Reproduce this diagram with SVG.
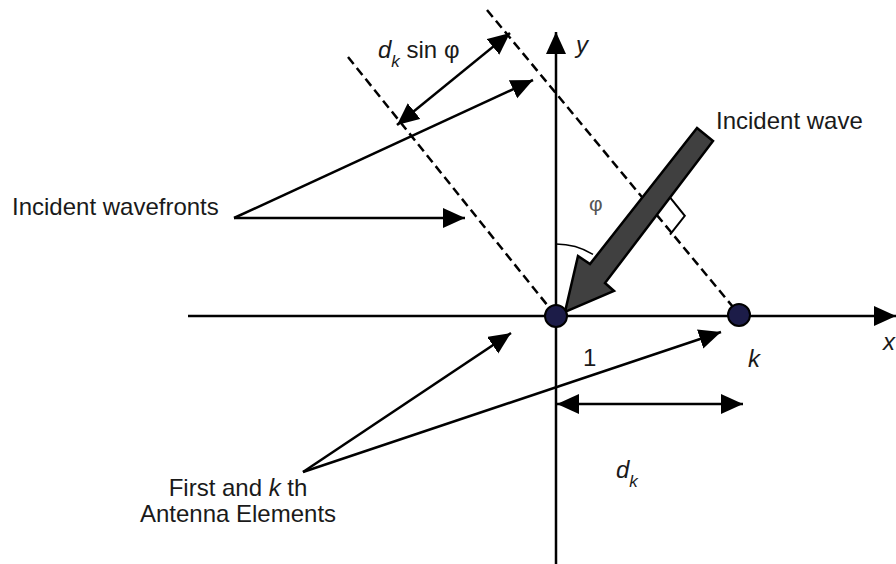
<svg xmlns="http://www.w3.org/2000/svg" width="896" height="564" viewBox="0 0 896 564">
<defs>
<marker id="ah" markerUnits="userSpaceOnUse" markerWidth="24" markerHeight="22" refX="22" refY="10" orient="auto-start-reverse" viewBox="0 0 24 22">
<path d="M0,0 L22,10 L0,20 z" fill="#000"/>
</marker>
<style>
.ln{stroke:#000;stroke-width:2.5;fill:none}
.arr{stroke:#000;stroke-width:2.5;fill:none;marker-end:url(#ah)}
.dbl{stroke:#000;stroke-width:2.5;fill:none;marker-start:url(#ah);marker-end:url(#ah)}
.dash{stroke:#000;stroke-width:2.5;fill:none;stroke-dasharray:9 5}
.t{font-family:"Liberation Sans",Arial,sans-serif;font-size:24px;fill:#1a1a1a}
.i{font-style:italic}
.dot{fill:#1c1c48;stroke:#000;stroke-width:2}
</style>
</defs>
<rect width="896" height="564" fill="#fff"/>
<g id="wavefronts">
<line class="dash" x1="348" y1="57" x2="552" y2="311"/>
<line class="dash" x1="487" y1="10" x2="738" y2="313"/>
</g>
<g id="axes">
<line class="arr" x1="188" y1="316" x2="896" y2="316"/>
<line class="arr" x1="556" y1="564" x2="556" y2="32"/>
</g>
<g id="angle">
<path class="ln" style="stroke-width:1.5" d="M556,244 A72,72 0 0,1 593,254.3"/>
<polyline class="ln" style="stroke-width:2" points="669.8,197.1 684.8,215.8 670,234.7"/>
</g>
<g id="incident-wave">
<polygon points="697,128 713,141 605,283 614,291 565,312 578,256 590,264" fill="#404040" stroke="#000" stroke-width="2.5" stroke-linejoin="miter"/>
</g>
<g id="elements">
<circle id="element-1" class="dot" cx="556" cy="316" r="11"/>
<circle id="element-k" class="dot" cx="739" cy="315" r="11"/>
</g>
<g id="connectors">
<line class="dbl" x1="397" y1="125" x2="510" y2="33"/>
<line class="arr" x1="234" y1="218" x2="533" y2="80"/>
<line class="arr" x1="234" y1="218" x2="465" y2="218"/>
<line class="arr" x1="303" y1="472" x2="511" y2="333"/>
<line class="arr" x1="303" y1="472" x2="721" y2="332"/>
<line class="dbl" x1="557" y1="404" x2="743" y2="404"/>
</g>
<g id="labels">
<text class="t" x="12" y="215">Incident wavefronts</text>
<text class="t" x="716" y="129">Incident wave</text>
<text class="t" x="238" y="496" text-anchor="middle">First and <tspan class="i">k</tspan> th</text>
<text class="t" x="238" y="522" text-anchor="middle">Antenna Elements</text>
<text class="t i" x="576" y="53">y</text>
<text class="t i" x="883" y="350">x</text>
<text class="t" x="583" y="366">1</text>
<text class="t i" x="748" y="367">k</text>
<text class="t" x="589" y="211" style="fill:#555;font-size:21px">φ</text>
<text class="t" x="378" y="58"><tspan class="i">d</tspan><tspan class="i" style="font-size:17px" dy="9">k</tspan><tspan dy="-9"> sin φ</tspan></text>
<text class="t" x="616" y="478"><tspan class="i">d</tspan><tspan class="i" style="font-size:17px" dy="9">k</tspan></text>
</g>
</svg>
